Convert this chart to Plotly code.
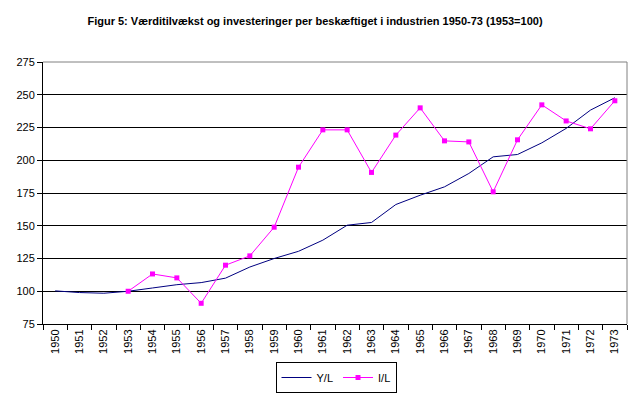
import plotly.graph_objects as go

years = [str(y) for y in range(1950, 1974)]
y_l = [100.3, 99.0, 98.5, 100.0, 102.5, 105.0, 106.6, 110.0, 118.5, 125.0, 130.5, 139.0,
       150.4, 152.5, 166.2, 173.3, 179.7, 189.9, 202.6, 204.4, 213.3, 224.3, 238.3, 247.7]
i_years = [str(y) for y in range(1953, 1974)]
i_l = [100.0, 113.2, 110.2, 90.8, 119.9, 127.0, 148.9, 194.7, 223.2, 223.2, 190.7, 219.2,
       240.0, 214.8, 214.0, 175.9, 215.6, 242.3, 230.0, 224.0, 245.4]

title = "Figur 5: Værditilvækst og investeringer per beskæftiget i industrien 1950-73 (1953=100)"
FONT = "Arial, Liberation Sans, sans-serif"

fig = go.Figure()
fig.add_trace(go.Scatter(x=years, y=y_l, mode="lines", name="Y/L",
                         line=dict(color="#000080", width=1)))
fig.add_trace(go.Scatter(x=i_years, y=i_l, mode="lines+markers", name="I/L",
                         line=dict(color="#FF00FF", width=1),
                         marker=dict(symbol="square", size=5, color="#FF00FF")))

fig.update_layout(
    width=642, height=399,
    margin=dict(l=43, r=15, t=62, b=75, autoexpand=False),
    paper_bgcolor="white", plot_bgcolor="white",
    font=dict(family=FONT, size=11, color="black"),
    title=dict(text="<b>" + title + "</b>", x=315/642, xanchor="center",
               y=1 - 21/399, yanchor="middle", font=dict(size=11)),
    showlegend=True,
    legend=dict(orientation="h", xref="container", x=336/642, xanchor="center",
                yref="container", y=1 - 362/399, yanchor="top",
                bordercolor="black", borderwidth=1,
                font=dict(size=11), itemwidth=30, tracegroupgap=0),
    xaxis=dict(type="category", categoryorder="array", categoryarray=years,
               tickson="boundaries", ticks="outside", ticklen=5, tickcolor="black",
               tickangle=-90, showline=True, linecolor="black", linewidth=1,
               showgrid=False, range=[-0.5, 23.5], tickfont=dict(size=11),
               automargin=False),
    yaxis=dict(range=[75, 275], dtick=25, tick0=75, ticks="outside", ticklen=5,
               tickcolor="black", showline=True, linecolor="black", linewidth=1,
               showgrid=True, gridcolor="black", gridwidth=1, zeroline=False,
               tickfont=dict(size=11), automargin=False),
)

fig.add_shape(type="line", xref="paper", yref="paper", x0=0, x1=1, y0=1, y1=1,
              line=dict(color="#808080", width=1), layer="above")
fig.add_shape(type="line", xref="paper", yref="paper", x0=1, x1=1, y0=0, y1=1,
              line=dict(color="#808080", width=1), layer="above")

fig.write_html("out.html", config={"displayModeBar": False},
               post_script="document.body.style.margin='0';document.body.style.overflow='hidden';")
